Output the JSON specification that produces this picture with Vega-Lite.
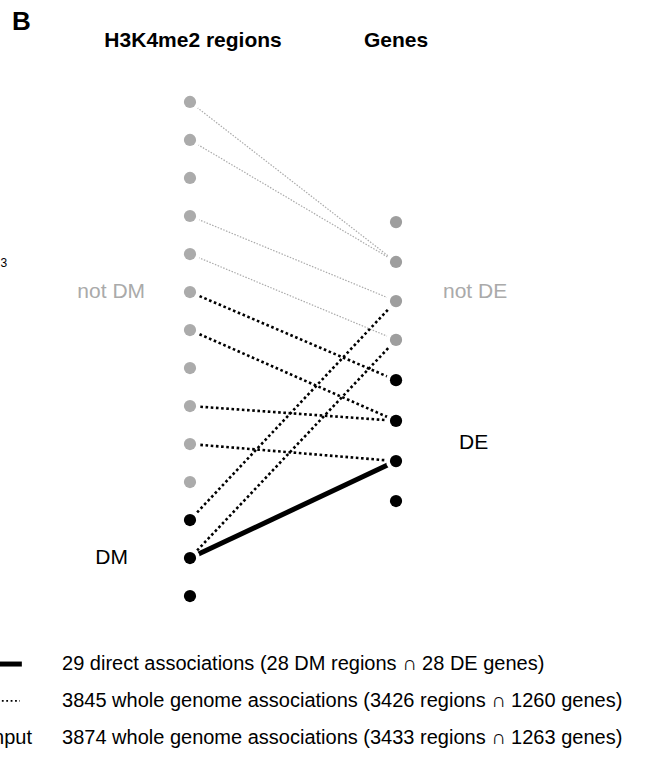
{
  "$schema": "https://vega.github.io/schema/vega-lite/v6.json",
  "width": 647,
  "height": 775,
  "padding": 0,
  "autosize": {"type": "none"},
  "background": "white",
  "config": {"view": {"stroke": null}, "font": "Liberation Sans"},
  "datasets": {
    "nodes": [
      {"col": 0, "row": 0, "status": "not DM"},
      {"col": 0, "row": 1, "status": "not DM"},
      {"col": 0, "row": 2, "status": "not DM"},
      {"col": 0, "row": 3, "status": "not DM"},
      {"col": 0, "row": 4, "status": "not DM"},
      {"col": 0, "row": 5, "status": "not DM"},
      {"col": 0, "row": 6, "status": "not DM"},
      {"col": 0, "row": 7, "status": "not DM"},
      {"col": 0, "row": 8, "status": "not DM"},
      {"col": 0, "row": 9, "status": "not DM"},
      {"col": 0, "row": 10, "status": "not DM"},
      {"col": 0, "row": 11, "status": "DM"},
      {"col": 0, "row": 12, "status": "DM"},
      {"col": 0, "row": 13, "status": "DM"},
      {"col": 1, "row": 3.16, "status": "not DE"},
      {"col": 1, "row": 4.21, "status": "not DE"},
      {"col": 1, "row": 5.24, "status": "not DE"},
      {"col": 1, "row": 6.26, "status": "not DE"},
      {"col": 1, "row": 7.32, "status": "DE"},
      {"col": 1, "row": 8.39, "status": "DE"},
      {"col": 1, "row": 9.45, "status": "DE"},
      {"col": 1, "row": 10.5, "status": "DE"}
    ],
    "links": [
      {"x": 0, "y": 0, "x2": 1, "y2": 4.21, "kind": "input"},
      {"x": 0, "y": 1, "x2": 1, "y2": 4.21, "kind": "input"},
      {"x": 0, "y": 3, "x2": 1, "y2": 5.24, "kind": "input"},
      {"x": 0, "y": 4, "x2": 1, "y2": 6.26, "kind": "input"},
      {"x": 0, "y": 5, "x2": 1, "y2": 7.32, "kind": "whole"},
      {"x": 0, "y": 6, "x2": 1, "y2": 8.39, "kind": "whole"},
      {"x": 0, "y": 8, "x2": 1, "y2": 8.39, "kind": "whole"},
      {"x": 0, "y": 9, "x2": 1, "y2": 9.45, "kind": "whole"},
      {"x": 0, "y": 11, "x2": 1, "y2": 5.24, "kind": "whole"},
      {"x": 0, "y": 12, "x2": 1, "y2": 6.26, "kind": "whole"},
      {"x": 0, "y": 12, "x2": 1, "y2": 9.45, "kind": "direct"}
    ],
    "legendLines": [
      {"x": -0.922, "x2": -0.816, "y": 14.79, "kind": "direct"},
      {"x": -0.913, "x2": -0.825, "y": 15.76, "kind": "whole"}
    ],
    "labels": [
      {"x": 0.015, "y": -1.605, "text": "H3K4me2 regions", "role": "title"},
      {"x": 1.0, "y": -1.605, "text": "Genes", "role": "title"},
      {"x": -0.864, "y": -2.105, "text": "B", "role": "panel"},
      {"x": -0.218, "y": 5, "text": "not DM", "role": "grayR"},
      {"x": 1.228, "y": 5, "text": "not DE", "role": "grayL"},
      {"x": -0.301, "y": 12, "text": "DM", "role": "blackR"},
      {"x": 1.306, "y": 8.97, "text": "DE", "role": "blackL"},
      {"x": -0.92, "y": 4.24, "text": "3", "role": "stray"},
      {"x": -0.621, "y": 14.79, "text": "29 direct associations (28 DM regions ∩ 28 DE genes)", "role": "legendL"},
      {"x": -0.621, "y": 15.76, "text": "3845 whole genome associations (3426 regions ∩ 1260 genes)", "role": "legendL"},
      {"x": -0.621, "y": 16.74, "text": "3874 whole genome associations (3433 regions ∩ 1263 genes)", "role": "legendL"},
      {"x": -0.767, "y": 16.74, "text": "Input", "role": "legendR"}
    ]
  },
  "encoding": {
    "x": {"type": "quantitative", "scale": {"domain": [-0.922, 2.218], "nice": false, "zero": false}, "axis": null},
    "y": {"type": "quantitative", "scale": {"domain": [-2.684, 17.71], "nice": false, "zero": false, "reverse": true}, "axis": null}
  },
  "layer": [
    {
      "data": {"name": "links"},
      "transform": [{"filter": "datum.kind === 'input'"}],
      "mark": {"type": "rule", "color": "#aaaaaa", "strokeWidth": 1.2, "strokeDash": [1.5, 1.5]},
      "encoding": {"x": {"field": "x"}, "y": {"field": "y"}, "x2": {"field": "x2"}, "y2": {"field": "y2"}}
    },
    {
      "data": {"name": "links"},
      "transform": [{"filter": "datum.kind === 'whole'"}],
      "mark": {"type": "rule", "color": "#000000", "strokeWidth": 2.6, "strokeDash": [2.6, 2.6]},
      "encoding": {"x": {"field": "x"}, "y": {"field": "y"}, "x2": {"field": "x2"}, "y2": {"field": "y2"}}
    },
    {
      "data": {"name": "links"},
      "transform": [{"filter": "datum.kind === 'direct'"}],
      "mark": {"type": "rule", "color": "#000000", "strokeWidth": 5},
      "encoding": {"x": {"field": "x"}, "y": {"field": "y"}, "x2": {"field": "x2"}, "y2": {"field": "y2"}}
    },
    {
      "data": {"name": "nodes"},
      "mark": {"type": "circle", "color": "white", "opacity": 1, "size": 400},
      "encoding": {"x": {"field": "col"}, "y": {"field": "row"}}
    },
    {
      "data": {"name": "nodes"},
      "mark": {"type": "circle", "opacity": 1, "size": 150},
      "encoding": {
        "x": {"field": "col"},
        "y": {"field": "row"},
        "color": {"field": "status", "type": "nominal", "legend": null,
          "scale": {"domain": ["not DM", "DM", "not DE", "DE"], "range": ["#ababab", "#000000", "#9e9e9e", "#000000"]}}
      }
    },
    {
      "data": {"name": "legendLines"},
      "transform": [{"filter": "datum.kind === 'direct'"}],
      "mark": {"type": "rule", "color": "#000000", "strokeWidth": 5},
      "encoding": {"x": {"field": "x"}, "x2": {"field": "x2"}, "y": {"field": "y"}}
    },
    {
      "data": {"name": "legendLines"},
      "transform": [{"filter": "datum.kind === 'whole'"}],
      "mark": {"type": "rule", "color": "#000000", "strokeWidth": 1.8, "strokeDash": [1.8, 2.6]},
      "encoding": {"x": {"field": "x"}, "x2": {"field": "x2"}, "y": {"field": "y"}}
    },
    {
      "data": {"name": "labels"},
      "transform": [{"filter": "datum.role === 'title'"}],
      "mark": {"type": "text", "fontSize": 21, "fontWeight": "bold", "align": "center", "baseline": "middle", "color": "#000000"},
      "encoding": {"x": {"field": "x"}, "y": {"field": "y"}, "text": {"field": "text"}}
    },
    {
      "data": {"name": "labels"},
      "transform": [{"filter": "datum.role === 'panel'"}],
      "mark": {"type": "text", "fontSize": 26, "fontWeight": "bold", "align": "left", "baseline": "middle", "color": "#000000"},
      "encoding": {"x": {"field": "x"}, "y": {"field": "y"}, "text": {"field": "text"}}
    },
    {
      "data": {"name": "labels"},
      "transform": [{"filter": "datum.role === 'grayR'"}],
      "mark": {"type": "text", "fontSize": 21, "align": "right", "baseline": "middle", "color": "#aaaaaa"},
      "encoding": {"x": {"field": "x"}, "y": {"field": "y"}, "text": {"field": "text"}}
    },
    {
      "data": {"name": "labels"},
      "transform": [{"filter": "datum.role === 'grayL'"}],
      "mark": {"type": "text", "fontSize": 21, "align": "left", "baseline": "middle", "color": "#aaaaaa"},
      "encoding": {"x": {"field": "x"}, "y": {"field": "y"}, "text": {"field": "text"}}
    },
    {
      "data": {"name": "labels"},
      "transform": [{"filter": "datum.role === 'blackR'"}],
      "mark": {"type": "text", "fontSize": 21, "align": "right", "baseline": "middle", "color": "#000000"},
      "encoding": {"x": {"field": "x"}, "y": {"field": "y"}, "text": {"field": "text"}}
    },
    {
      "data": {"name": "labels"},
      "transform": [{"filter": "datum.role === 'blackL'"}],
      "mark": {"type": "text", "fontSize": 21, "align": "left", "baseline": "middle", "color": "#000000"},
      "encoding": {"x": {"field": "x"}, "y": {"field": "y"}, "text": {"field": "text"}}
    },
    {
      "data": {"name": "labels"},
      "transform": [{"filter": "datum.role === 'stray'"}],
      "mark": {"type": "text", "fontSize": 12, "baseline": "middle", "align": "left", "color": "#000000"},
      "encoding": {"x": {"field": "x"}, "y": {"field": "y"}, "text": {"field": "text"}}
    },
    {
      "data": {"name": "labels"},
      "transform": [{"filter": "datum.role === 'legendL'"}],
      "mark": {"type": "text", "fontSize": 20, "align": "left", "baseline": "middle", "color": "#000000"},
      "encoding": {"x": {"field": "x"}, "y": {"field": "y"}, "text": {"field": "text"}}
    },
    {
      "data": {"name": "labels"},
      "transform": [{"filter": "datum.role === 'legendR'"}],
      "mark": {"type": "text", "fontSize": 20, "align": "right", "baseline": "middle", "color": "#000000", "clip": true},
      "encoding": {"x": {"field": "x"}, "y": {"field": "y"}, "text": {"field": "text"}}
    }
  ]
}
